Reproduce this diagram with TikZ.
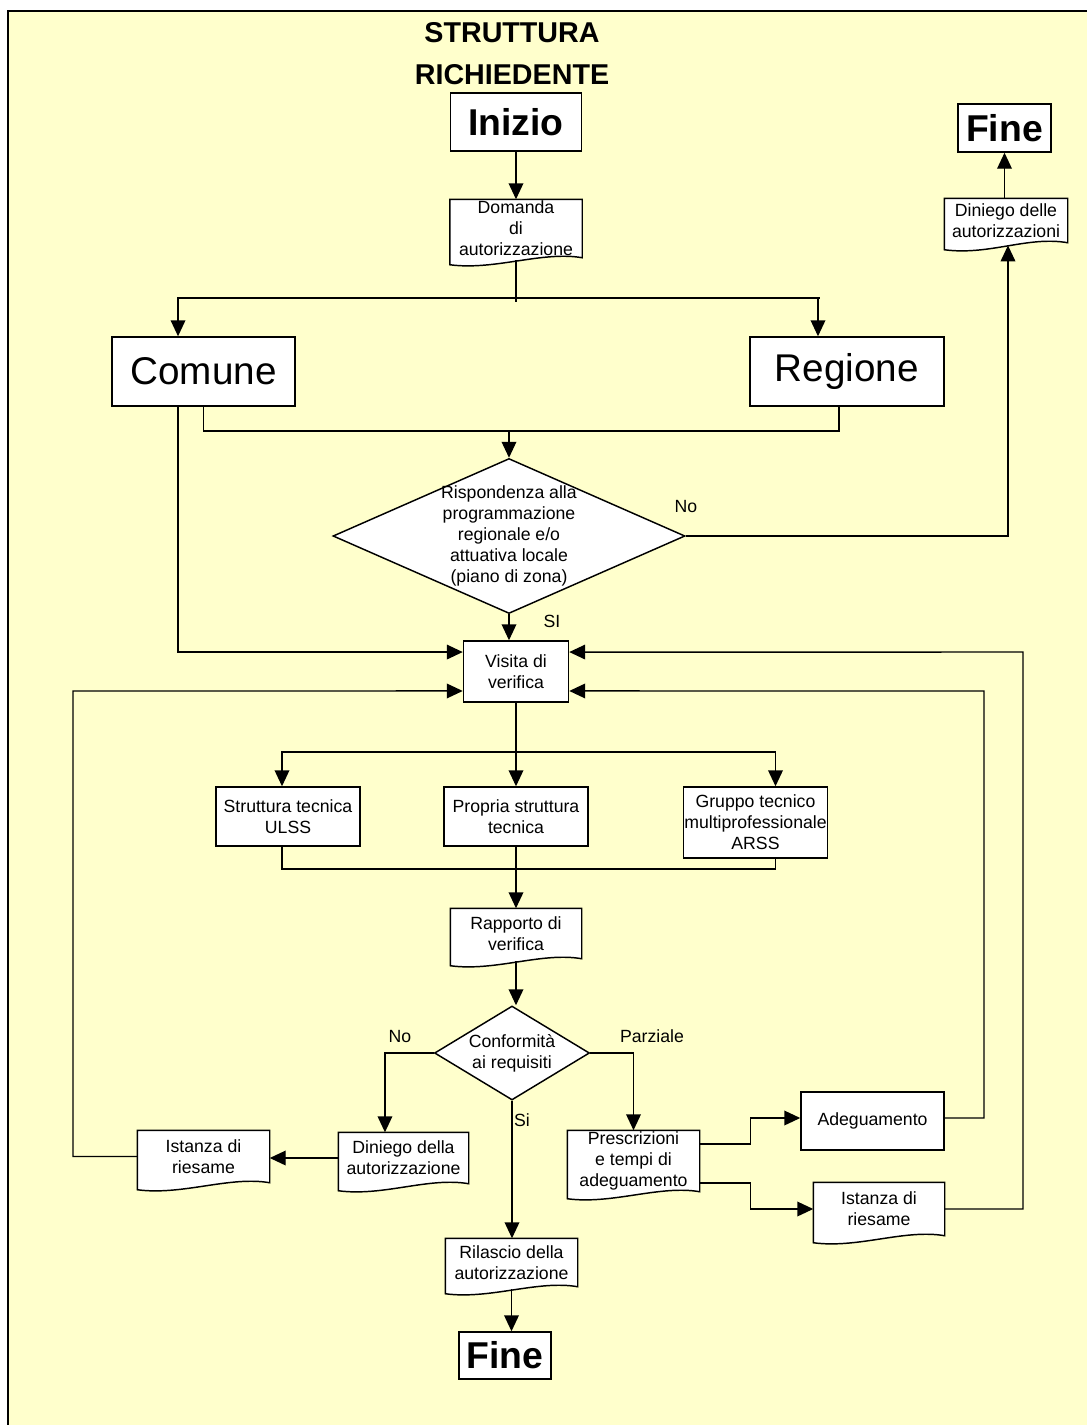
\documentclass[tikz,border=0pt]{standalone}
\usepackage{fontspec}
\setmainfont{Liberation Sans}
\usetikzlibrary{arrows.meta,shapes.geometric}
\pgfdeclarelayer{sfondo}
\pgfdeclarelayer{forme}
\pgfsetlayers{sfondo,forme,main}
\definecolor{giallino}{HTML}{FFFFCC}
\newcommand{\docforma}[1]{\draw[line width=1.1pt, fill=white] (#1.north west) -- (#1.north east) -- (#1.south east) .. controls +(-40,-7) and +(45,6) .. ([yshift=-5.25pt]#1.south west) -- cycle;}

\begin{document}
\begin{tikzpicture}[x=0.75pt, y=-0.75pt, line width=1.1pt,
    testo/.style={font=\fontsize{13.25}{15.75}\selectfont, align=center, inner sep=0.5pt},
    scatola/.style={testo, draw, fill=white},
    doc/.style={testo},
    grande/.style={draw, fill=white, font=\fontsize{29}{34}\selectfont},
    estremo/.style={draw, fill=white, font=\fontsize{28}{33}\bfseries\selectfont},
    rombo/.style={testo, draw, fill=white, diamond, inner sep=-2.5pt},
    freccia/.style={-{Triangle[length=12pt,width=11pt]}},
    etichetta/.style={font=\fontsize{13.25}{15}\selectfont}]
    \useasboundingbox (0,0) rectangle (1087,1425);

    \node[font=\fontsize{21.5}{31.5}\bfseries\selectfont, align=center] (titolo) at (512,54) {STRUTTURA\\RICHIEDENTE};

    \node[estremo, minimum width=98.25pt, minimum height=43.5pt] (inizio) at (516,122) {Inizio};
    \node[doc, minimum width=98.25pt, minimum height=42.75pt] (domanda) at (516,228.5) {Domanda\\di\\autorizzazione};
    \node[grande, minimum width=137.25pt, minimum height=51.75pt] (comune) at (203.5,371.5) {Comune};
    \node[grande, minimum width=145.5pt, minimum height=51.75pt] (regione) at (847,371.5) {Regione};
    \node[rombo, aspect=2.27, minimum width=264pt, minimum height=116.25pt] (rispondenza) at (509,536) {Rispondenza alla\\programmazione\\regionale e/o\\attuativa locale\\(piano di zona)};
    \node[estremo, minimum width=69.75pt, minimum height=36pt] (fineA) at (1004.5,128) {Fine};
    \node[doc, minimum width=91.5pt, minimum height=32.25pt] (diniegoB) at (1006,220.5) {Diniego delle\\autorizzazioni};

    \node[scatola, minimum width=78.75pt, minimum height=45.75pt] (visita) at (516,671.5) {Visita di\\verifica};
    \node[scatola, minimum width=108pt, minimum height=44.25pt] (ulss) at (288,816.5) {Struttura tecnica\\ULSS};
    \node[scatola, minimum width=108pt, minimum height=44.25pt] (propria) at (516,816.5) {Propria struttura\\tecnica};
    \node[scatola, minimum width=107.25pt, minimum height=53.25pt] (gruppo) at (755.5,822.5) {Gruppo tecnico\\multiprofessionale\\ARSS};
    \node[doc, minimum width=97.5pt, minimum height=36.75pt] (rapporto) at (516,933.5) {Rapporto di\\verifica};
    \node[rombo, aspect=1.65, minimum width=116.25pt, minimum height=70.5pt] (conformita) at (512,1053) {Conformità\\ai requisiti};

    \node[doc, minimum width=96.75pt, minimum height=37.5pt] (diniegoA) at (403.5,1158) {Diniego della\\autorizzazione};
    \node[doc, minimum width=98.25pt, minimum height=38.25pt] (istanzaA) at (203.5,1156.5) {Istanza di\\riesame};
    \node[doc, minimum width=98.25pt, minimum height=45pt] (prescrizioni) at (633.5,1161) {Prescrizioni\\e tempi di\\adeguamento};
    \node[scatola, minimum width=107.25pt, minimum height=43.5pt] (adeguamento) at (872.5,1121) {Adeguamento};
    \node[doc, minimum width=97.5pt, minimum height=39pt] (istanzaB) at (879,1209) {Istanza di\\riesame};
    \node[doc, minimum width=98.25pt, minimum height=35.25pt] (rilascio) at (511.5,1262.5) {Rilascio della\\autorizzazione};
    \node[estremo, minimum width=69pt, minimum height=35.25pt] (fineB) at (505,1355.5) {Fine};

    \coordinate (split1) at (516,298);
    \coordinate (merge1) at (509,431);
    \coordinate (split2) at (516,752);
    \coordinate (merge2) at (516,869);
    \coordinate (giroSx) at (73,691);
    \coordinate (giroDx1) at (984,691);
    \coordinate (giroDx2) at (1023,652);

    \draw[freccia] (inizio) -- (domanda);
    \draw ([yshift=-2pt]domanda.south) -- ([yshift=-3pt]split1);
    \draw (178,298) -- (820,298);
    \draw[freccia] (split1) -| ([xshift=-19.1pt]comune.north);
    \draw[freccia] (split1) -| ([xshift=-21.75pt]regione.north);
    \draw (comune.south) |- (merge1) -| ([xshift=-6pt]regione.south);
    \draw[freccia] (merge1) -- (rispondenza.north);
    \draw[freccia] ([xshift=-19.1pt]comune.south) |- ([yshift=14.6pt]visita.west);
    \draw[freccia] (rispondenza.east) -| ([xshift=1.5pt,yshift=-2pt]diniegoB.south);
    \node[etichetta] (no1) at (686,506) {No};
    \draw[freccia] (diniegoB.north -| fineA.south) -- (fineA.south);
    \draw[freccia] (rispondenza.south) -- (rispondenza.south |- visita.north);
    \node[etichetta] (si1) at (552,621) {SI};

    \draw (visita.south) -- (split2);
    \draw[freccia] (split2) -| ([xshift=-4.5pt]ulss.north);
    \draw[freccia] (split2) -- (propria.north);
    \draw[freccia] (split2) -| ([xshift=15pt]gruppo.north);
    \draw ([xshift=-4.5pt]ulss.south) |- (merge2) -| ([xshift=15pt]gruppo.south);
    \draw[freccia] (propria.south) -- (rapporto.north);
    \draw[freccia] ([yshift=-2pt]rapporto.south) -- (rapporto.south |- conformita.north);

    \draw[freccia] (conformita.west) -| ([xshift=-13.9pt]diniegoA.north);
    \node[etichetta] (no2) at (400,1036) {No};
    \draw[freccia] (conformita.east) -| (prescrizioni.north);
    \node[etichetta] (parziale) at (652,1036) {Parziale};
    \draw[freccia] (conformita.south) -- (conformita.south |- rilascio.north);
    \node[etichetta] (si2) at (522,1120) {Si};

    \draw[freccia] (diniegoA.west) -- (diniegoA.west -| istanzaA.east);
    \draw[freccia] (istanzaA.west) -| (giroSx) -- ([yshift=-14.6pt]visita.west);
    \draw[freccia] ([yshift=12.75pt]prescrizioni.east) -- ++(51,0) |- ([yshift=2.25pt]adeguamento.west);
    \draw[freccia] ([yshift=-16.5pt]prescrizioni.east) -- ++(51,0) |- (istanzaB.west);
    \draw[freccia] ([yshift=2.25pt]adeguamento.east) -| (giroDx1) -- ([yshift=-14.6pt]visita.east);
    \draw[freccia] (istanzaB.east) -| (giroDx2) -- ([yshift=14.6pt]visita.east);
    \draw[freccia] ([yshift=-2pt]rilascio.south) -- (rilascio.south |- fineB.north);

    \begin{pgfonlayer}{forme}
        \foreach \d in {domanda,diniegoB,rapporto,diniegoA,istanzaA,prescrizioni,istanzaB,rilascio} {\docforma{\d}}
    \end{pgfonlayer}
    \begin{pgfonlayer}{sfondo}
        \fill[giallino] (8,11) rectangle (1087,1425);
        \draw[line width=1.5pt] (8,1425) -- (8,11) -- (1087,11);
    \end{pgfonlayer}
\end{tikzpicture}
\end{document}
